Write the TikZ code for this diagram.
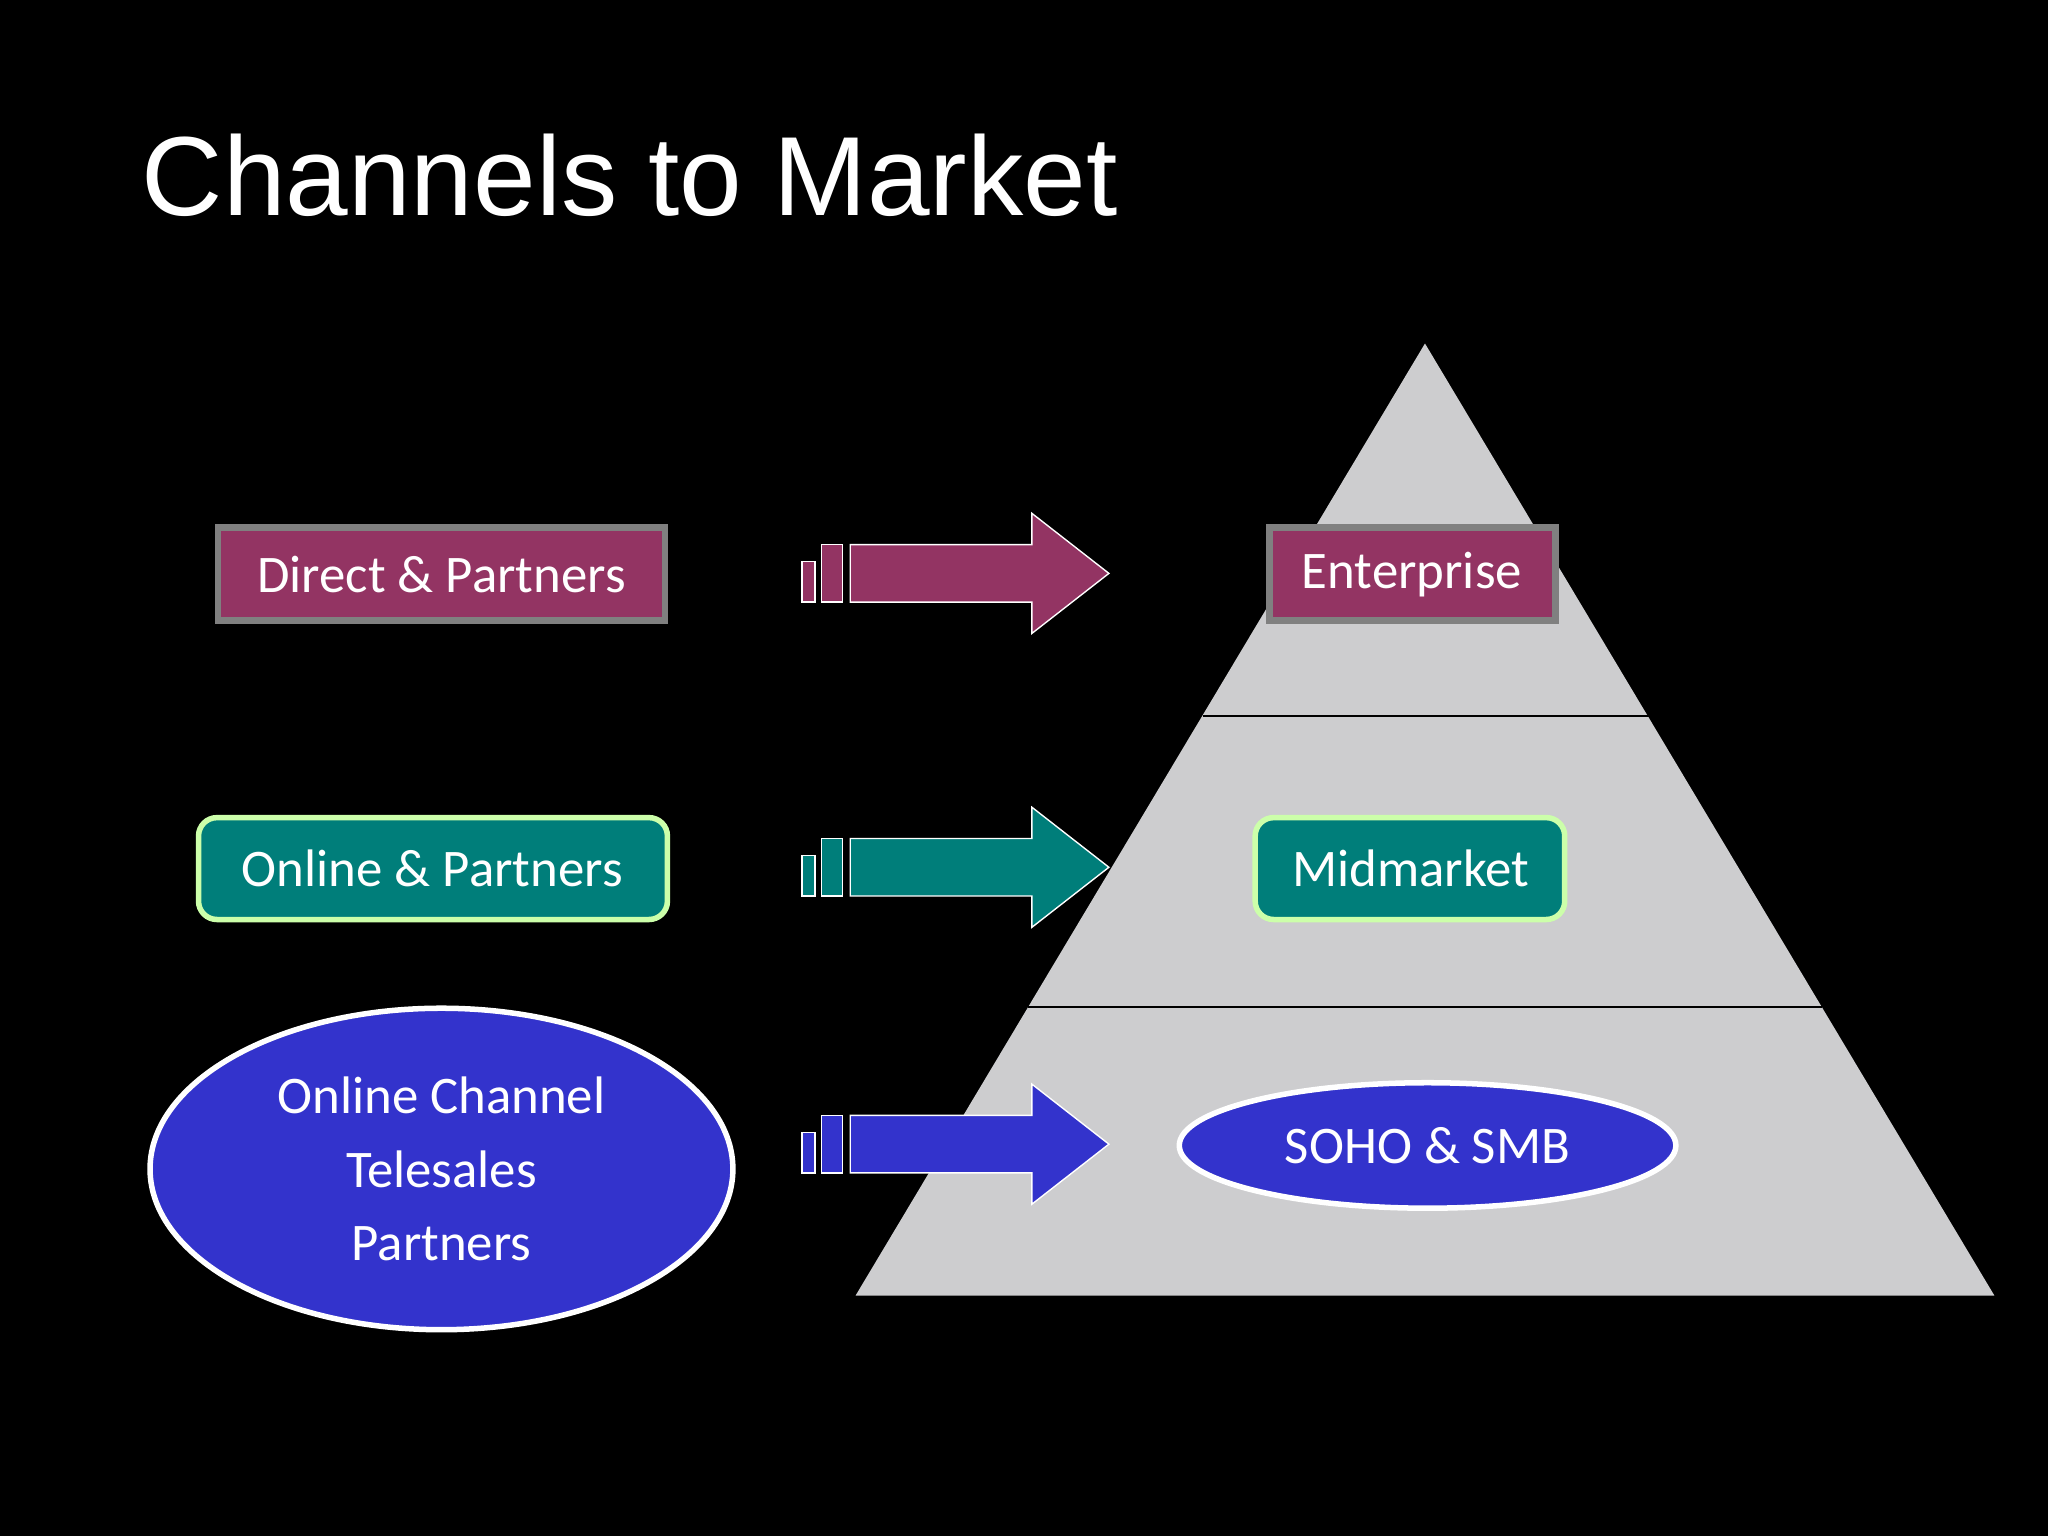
\documentclass[tikz,border=0pt]{standalone}
\usepackage{fontspec}
\setmainfont{Carlito}
\newfontfamily\titlefont{Liberation Sans}
\usetikzlibrary{shapes.geometric}
\definecolor{plum}{HTML}{933463}
\definecolor{tealc}{HTML}{007E7A}
\definecolor{bluec}{HTML}{3333CC}
\definecolor{pyr}{HTML}{CDCDCF}
\definecolor{mint}{HTML}{CCFFAA}
\begin{document}
\begin{tikzpicture}[x=0.01cm,y=-0.01cm,
  lbl/.style={font=\fontsize{11.5pt}{14pt}\selectfont,text=white,align=center,inner sep=0pt},
  box1/.style={fill=plum,draw=gray,line width=1.4pt},
  box2/.style={fill=tealc,draw=mint,line width=1.2pt,rounded corners=4pt},
  ell/.style={fill=bluec,draw=white,line width=1.2pt},
  pics/sarrow/.style={code={
    \fill[#1,draw=white,line width=0.3pt] (-235,-9) rectangle (-225,22);
    \fill[#1,draw=white,line width=0.3pt] (-220,-22) rectangle (-204,22);
    \fill[#1,draw=white,line width=0.3pt] (-198,-22) -- (-59,-22) -- (-59,-46) -- (0,0) -- (-59,46) -- (-59,22) -- (-198,22) -- cycle;
  }}]
\fill[black] (0,0) rectangle (1568,1176);
\node[anchor=base west,inner sep=0pt,text=white,font=\titlefont\fontsize{24.5pt}{28pt}\selectfont] (title) at (108,165) {Channels to Market};
% pyramid
\fill[pyr] (1091,263) -- (1527,992) -- (655,992) -- cycle;
\coordinate (l1a) at (921,548); \coordinate (l1b) at (1263,548);
\coordinate (l2a) at (787,771); \coordinate (l2b) at (1395,771);
\draw[black,line width=0.5pt] (l1a) -- (l1b);
\draw[black,line width=0.5pt] (l2a) -- (l2b);
% left boxes
\path[box1] (167,404) rectangle (509,475);
\node[lbl] (dp) at (338,440) {Direct \& Partners};
\path[box1] (972,404) rectangle (1191,475);
\node[lbl] (ent) at (1081,440) {Enterprise};
\path[box2] (152,626) rectangle (511,704);
\node[lbl] (op) at (331,665) {Online \& Partners};
\path[box2] (961,626) rectangle (1198,704);
\node[lbl] (mid) at (1080,665) {Midmarket};
\node[ell,ellipse,minimum width=446\pgflinewidth*0+4.46cm,minimum height=2.46cm,lbl,fill=bluec,draw=white,line width=1.2pt] (oc) at (338,895) {Online Channel\\[2pt]Telesales\\[2pt]Partners};
\node[ell,ellipse,minimum width=3.8cm,minimum height=0.96cm,lbl,fill=bluec,draw=white,line width=1.2pt] (soho) at (1093,877) {SOHO \& SMB};
% arrows
\pic at (849,439) {sarrow=plum};
\pic at (849,664) {sarrow=tealc};
\pic at (849,876) {sarrow=bluec};
\end{tikzpicture}
\end{document}
